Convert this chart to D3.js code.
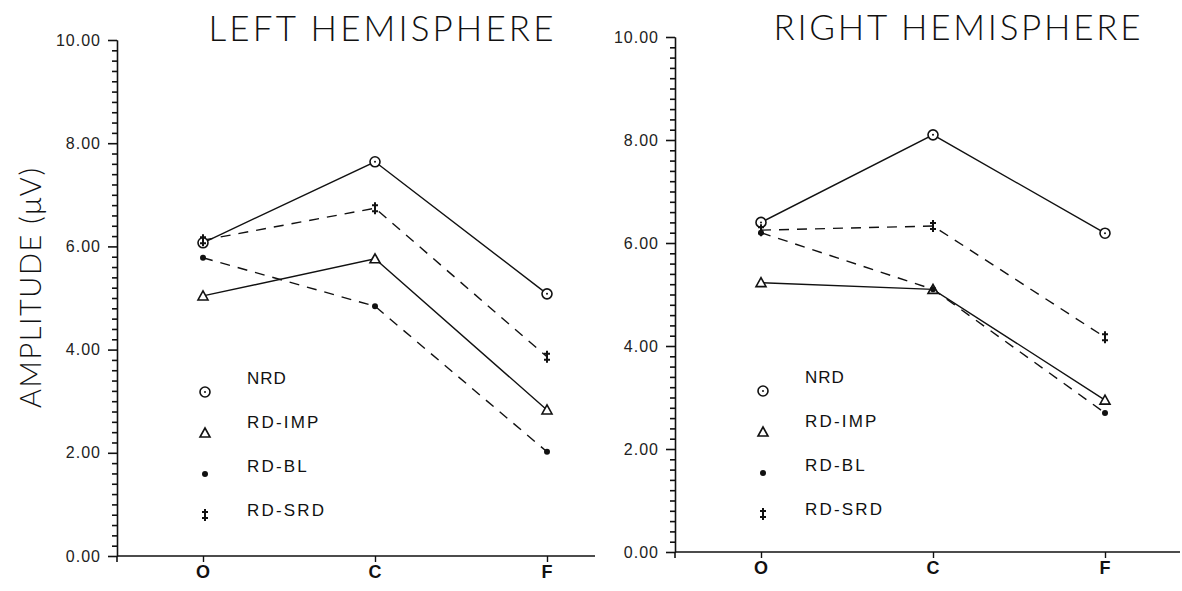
<!DOCTYPE html>
<html>
<head>
<meta charset="utf-8">
<script src="https://cdn.jsdelivr.net/npm/d3@7"></script>
<style>
    body { margin: 0; background: #fff; }
    text { font-family: 'Liberation Sans', Arial, sans-serif; fill: #111; }
</style>
</head>
<body>
<div id="chart"></div>
<script>
// recording sites and groups
var sites = ['O', 'C', 'F'];
var groups = ['NRD', 'RD-IMP', 'RD-BL', 'RD-SRD'];
var y_ticks = [0, 2, 4, 6, 8, 10];
var minor_ticks = [0.2, 0.4, 0.6, 0.8, 1.0, 1.2, 1.4, 1.6, 1.8,
    2.2, 2.4, 2.6, 2.8, 3.0, 3.2, 3.4, 3.6, 3.8,
    4.2, 4.4, 4.6, 4.8, 5.0, 5.2, 5.4, 5.6, 5.8,
    6.2, 6.4, 6.6, 6.8, 7.0, 7.2, 7.4, 7.6, 7.8,
    8.2, 8.4, 8.6, 8.8, 9.0, 9.2, 9.4, 9.6, 9.8];

// amplitudes (uV), one value per site
var left_nrd = [6.07, 7.64, 5.08];
var left_imp = [5.04, 5.76, 2.83];
var left_bl = [5.78, 4.84, 2.02];
var left_srd = [6.12, 6.74, 3.86];

var right_nrd = [6.40, 8.10, 6.19];
var right_imp = [5.23, 5.10, 2.95];
var right_bl = [6.20, 5.10, 2.70];
var right_srd = [6.25, 6.33, 4.17];

var width = 1182;
var height = 591;

var svg = d3.select('#chart')
    .append('svg')
    .attr('width', width)
    .attr('height', height);

svg.append('rect')
    .attr('width', width)
    .attr('height', height)
    .attr('fill', '#fff');

var line_styles = {
    'NRD': null,
    'RD-IMP': null,
    'RD-BL': '10,8',
    'RD-SRD': '10,8'
};

var thin_font = "Lato, 'DejaVu Sans', sans-serif";

function draw_marker(g, group, x, y) {
    if (group == 'NRD') {
        g.append('circle')
            .attr('cx', x).attr('cy', y).attr('r', 5)
            .attr('fill', '#fff').attr('stroke', '#111').attr('stroke-width', 1.6);
        g.append('circle')
            .attr('cx', x).attr('cy', y).attr('r', 1)
            .attr('fill', '#111');
    } else if (group == 'RD-IMP') {
        g.append('path')
            .attr('d', 'M' + x + ',' + (y - 5) + 'L' + (x + 5) + ',' + (y + 4) + 'L' + (x - 5) + ',' + (y + 4) + 'Z')
            .attr('fill', '#fff').attr('stroke', '#111').attr('stroke-width', 1.6);
    } else if (group == 'RD-BL') {
        g.append('circle')
            .attr('cx', x).attr('cy', y).attr('r', 3)
            .attr('fill', '#111');
    } else {
        g.append('path')
            .attr('d', 'M' + x + ',' + (y - 6) + 'V' + (y + 6) +
                'M' + (x - 3) + ',' + (y - 3) + 'H' + (x + 3) +
                'M' + (x - 3) + ',' + (y + 3) + 'H' + (x + 3))
            .attr('fill', 'none').attr('stroke', '#111').attr('stroke-width', 2);
    }
}

function draw_panel(p) {
    var g = svg.append('g');

    var x = d3.scalePoint()
        .domain(sites)
        .range([p.axis_x + 86, p.axis_x + 430]);

    var y = d3.scaleLinear()
        .domain([0, 10])
        .range([p.y0, p.y10]);

    // minor ticks every 0.2
    var minor_axis = g.append('g')
        .attr('class', 'minor-axis')
        .attr('transform', 'translate(' + p.axis_x + ',0)')
        .call(d3.axisLeft(y)
            .tickValues(minor_ticks)
            .tickSize(5)
            .tickSizeOuter(0)
            .tickFormat(function() { return ''; }));
    minor_axis.selectAll('line')
        .attr('stroke', '#111')
        .attr('stroke-width', 1.6);

    var y_axis = g.append('g')
        .attr('transform', 'translate(' + p.axis_x + ',0)')
        .call(d3.axisLeft(y)
            .tickValues(y_ticks)
            .tickSize(9)
            .tickSizeOuter(0)
            .tickPadding(7)
            .tickFormat(d3.format('.2f')));
    y_axis.attr('font-size', null).attr('font-family', null);
    y_axis.selectAll('text')
        .style('font-size', '16px')
        .style('letter-spacing', '1px')
        .style('fill', '#222');
    y_axis.selectAll('path, line').attr('stroke', '#111').attr('stroke-width', 1.6);

    // axis runs a little below the baseline
    g.append('line')
        .attr('x1', p.axis_x).attr('x2', p.axis_x)
        .attr('y1', y(0)).attr('y2', y(0) + 6)
        .attr('stroke', '#111').attr('stroke-width', 1.6);

    var x_axis = g.append('g')
        .attr('transform', 'translate(0,' + y(0) + ')')
        .call(d3.axisBottom(x)
            .tickSize(6)
            .tickSizeOuter(0)
            .tickFormat(function() { return ''; }));
    x_axis.select('.domain')
        .attr('d', 'M' + p.axis_x + ',0H' + p.x_end)
        .attr('stroke', '#111').attr('stroke-width', 1.6);
    x_axis.selectAll('line').attr('stroke', '#111').attr('stroke-width', 1.4);

    g.selectAll('.site-label')
        .data(sites)
        .enter()
        .append('text')
        .attr('class', 'site-label')
        .attr('x', function(d) { return x(d); })
        .attr('y', y(0) + 22)
        .attr('text-anchor', 'middle')
        .style('font-size', '18px')
        .style('font-weight', 'bold')
        .text(function(d) { return d; });

    // title
    g.append('text')
        .attr('x', p.title_x)
        .attr('y', p.title_y)
        .attr('text-anchor', 'middle')
        .attr('textLength', p.title_len)
        .attr('lengthAdjust', 'spacing')
        .style('font-family', thin_font)
        .style('font-weight', 300)
        .style('font-size', '35px')
        .text(p.title);

    var line = d3.line()
        .x(function(d, i) { return x(sites[i]); })
        .y(function(d) { return y(d); });

    groups.forEach(function(grp, k) {
        var values = p.series[k];
        g.append('path')
            .datum(values)
            .attr('d', line)
            .attr('fill', 'none')
            .attr('stroke', '#111')
            .attr('stroke-width', 1.4)
            .attr('stroke-dasharray', line_styles[grp]);
    });
    groups.forEach(function(grp, k) {
        p.series[k].forEach(function(v, i) {
            draw_marker(g, grp, x(sites[i]), y(v));
        });
    });

    // legend
    var lx = x('O');
    groups.forEach(function(grp, k) {
        draw_marker(g, grp, lx + 2, p.legend_y + 8 + k * 41);
        g.append('text')
            .attr('x', lx + 44)
            .attr('y', p.legend_y + k * 44)
            .style('font-size', '17px')
            .style('letter-spacing', grp == 'NRD' ? '1px' : '2.2px')
            .text(grp);
    });
}

draw_panel({
    axis_x: 117, x_end: 595, y0: 556, y10: 40,
    title: 'LEFT HEMISPHERE', title_x: 381, title_y: 41, title_len: 345,
    legend_y: 384,
    series: [left_nrd, left_imp, left_bl, left_srd]
});

draw_panel({
    axis_x: 675, x_end: 1180, y0: 552, y10: 37,
    title: 'RIGHT HEMISPHERE', title_x: 957, title_y: 40, title_len: 367,
    legend_y: 383,
    series: [right_nrd, right_imp, right_bl, right_srd]
});

// y axis title
svg.append('text')
    .attr('transform', 'translate(41,288) rotate(-90)')
    .attr('text-anchor', 'middle')
    .attr('textLength', 240)
    .attr('lengthAdjust', 'spacing')
    .style('font-family', thin_font)
    .style('font-weight', 300)
    .style('font-size', '29px')
    .text('AMPLITUDE (\u03bcV)');
</script>
</body>
</html>
